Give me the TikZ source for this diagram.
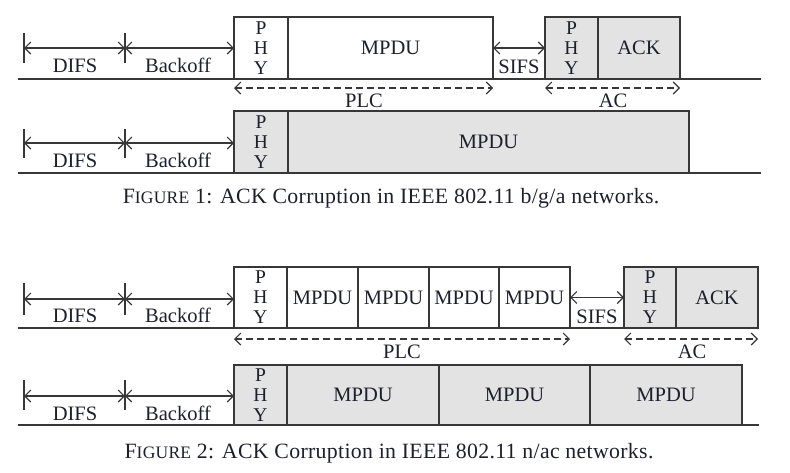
\documentclass[tikz,border=0pt]{standalone}
\usepackage{fontspec}
\setmainfont{Liberation Serif}
\newfontfamily\capfont[LetterSpace=1.5]{Liberation Serif}
\usetikzlibrary{arrows.meta}
\definecolor{txt}{RGB}{30,30,45}
\definecolor{linec}{RGB}{55,55,55}
\definecolor{pktfill}{RGB}{227,227,227}
\tikzset{
  pkt/.style={draw=linec, line width=1.2pt, inner sep=0pt, outer sep=0pt, text=txt,
    font=\fontsize{20.5}{20}\selectfont, align=center},
  grey/.style={fill=pktfill},
  phytext/.style={font=\fontsize{19.5}{20}\selectfont},
  base line/.style={draw=linec, line width=1.5pt},
  tickline/.style={draw=linec, line width=1.2pt},
  span/.style={draw=linec, line width=1.1pt, {Straight Barb[length=6pt,width=12pt]}-{Straight Barb[length=6pt,width=12pt]}},
  dspan/.style={span, dash pattern=on 7pt off 4pt},
  lbl/.style={text=txt, font=\fontsize{20.5}{20}\selectfont, anchor=base, inner sep=0pt},
  figcaption/.style={text=txt, font=\capfont\fontsize{21.8}{22}\selectfont, anchor=base, inner sep=0pt}
}
\begin{document}
\begin{tikzpicture}[x=1pt,y=-1pt]
\useasboundingbox (0,0) rectangle (790,472);

% ================= Figure 1 =================
% row 1
\draw[base line] (18,79) -- (761,79);
\node[pkt, phytext, minimum width=54pt, minimum height=62pt] (p1a) at (261,48) {P\\H\\Y};
\node[pkt, minimum width=205pt, minimum height=62pt] (m1a) at (390.5,48) {MPDU};
\node[pkt, grey, phytext, minimum width=53pt, minimum height=62pt] (p1b) at (571.5,48) {P\\H\\Y};
\node[pkt, grey, minimum width=82pt, minimum height=62pt] (k1) at (639,48) {ACK};
\coordinate (t1a) at (24,48);
\coordinate (t1b) at (125,48);
\draw[tickline] (24,33) -- (24,63);
\draw[tickline] (125,33) -- (125,63);
\draw[span] (t1a) -- (t1b);
\draw[span] (t1b) -- (p1a.west);
\draw[span] (m1a.east) -- (p1b.west);
\node[lbl] (difs1a) at (75,72) {DIFS};
\node[lbl] (bo1a) at (178,72) {Backoff};
\node[lbl] (sifs1) at (519,73) {SIFS};
\coordinate (plc1s) at (234,88);
\coordinate (plc1e) at (493,88);
\coordinate (ac1s) at (545,88);
\coordinate (ac1e) at (680,88);
\draw[dspan] (plc1s) -- (plc1e);
\draw[dspan] (ac1s) -- (ac1e);
\node[lbl] (plc1) at (364,107) {PLC};
\node[lbl] (ac1) at (613,107) {AC};
% row 2
\draw[base line] (18,173) -- (761,173);
\node[pkt, grey, phytext, minimum width=54pt, minimum height=62pt] (p1c) at (261,142) {P\\H\\Y};
\node[pkt, grey, minimum width=401pt, minimum height=62pt] (m1c) at (488.5,142) {MPDU};
\coordinate (t1c) at (24,143);
\coordinate (t1d) at (125,143);
\draw[tickline] (24,129) -- (24,158);
\draw[tickline] (125,129) -- (125,158);
\draw[span] (t1c) -- (t1d);
\draw[span] (t1d) -- (p1c.west |- t1d);
\node[lbl] (difs1c) at (75,167) {DIFS};
\node[lbl] (bo1c) at (178,167) {Backoff};
\node[figcaption] (cap1) at (391,203) {F{\fontsize{17.5}{17}\selectfont IGURE} 1: ACK Corruption in IEEE 802.11 b/g/a networks.};

% ================= Figure 2 =================
% row 1
\draw[base line] (18,328) -- (759,328);
\node[pkt, phytext, minimum width=53pt, minimum height=61pt] (p2a) at (260.5,297.5) {P\\H\\Y};
\node[pkt, minimum width=71pt, minimum height=61pt] (m2a) at (322.5,297.5) {MPDU};
\node[pkt, minimum width=71pt, minimum height=61pt] (m2b) at (393.5,297.5) {MPDU};
\node[pkt, minimum width=70pt, minimum height=61pt] (m2c) at (464,297.5) {MPDU};
\node[pkt, minimum width=71pt, minimum height=61pt] (m2d) at (534.5,297.5) {MPDU};
\node[pkt, grey, phytext, minimum width=52pt, minimum height=61pt] (p2b) at (650,297.5) {P\\H\\Y};
\node[pkt, grey, minimum width=82pt, minimum height=61pt] (k2) at (717,297.5) {ACK};
\coordinate (t2a) at (24,299);
\coordinate (t2b) at (125,299);
\draw[tickline] (24,283) -- (24,315);
\draw[tickline] (125,283) -- (125,315);
\draw[span] (t2a) -- (t2b);
\draw[span] (t2b) -- (p2a.west |- t2b);
\draw[span] (m2d.east) -- (p2b.west);
\node[lbl] (difs2a) at (75,322) {DIFS};
\node[lbl] (bo2a) at (178,322) {Backoff};
\node[lbl] (sifs2) at (597,323) {SIFS};
\coordinate (plc2s) at (234,339);
\coordinate (plc2e) at (570,339);
\coordinate (ac2s) at (624,339);
\coordinate (ac2e) at (758,339);
\draw[dspan] (plc2s) -- (plc2e);
\draw[dspan] (ac2s) -- (ac2e);
\node[lbl] (plc2) at (402,358) {PLC};
\node[lbl] (ac2) at (692,358) {AC};
% row 2
\draw[base line] (18,425) -- (759,425);
\node[pkt, grey, phytext, minimum width=53pt, minimum height=60pt] (p2c) at (260.5,395) {P\\H\\Y};
\node[pkt, grey, minimum width=152pt, minimum height=60pt] (m2e) at (363,395) {MPDU};
\node[pkt, grey, minimum width=151pt, minimum height=60pt] (m2f) at (514.5,395) {MPDU};
\node[pkt, grey, minimum width=152pt, minimum height=60pt] (m2g) at (666,395) {MPDU};
\coordinate (t2c) at (24,396);
\coordinate (t2d) at (125,396);
\draw[tickline] (24,380) -- (24,410);
\draw[tickline] (125,380) -- (125,410);
\draw[span] (t2c) -- (t2d);
\draw[span] (t2d) -- (p2c.west |- t2d);
\node[lbl] (difs2c) at (75,420) {DIFS};
\node[lbl] (bo2c) at (178,420) {Backoff};
\node[figcaption] (cap2) at (389,458) {F{\fontsize{17.5}{17}\selectfont IGURE} 2: ACK Corruption in IEEE 802.11 n/ac networks.};
\end{tikzpicture}
\end{document}
